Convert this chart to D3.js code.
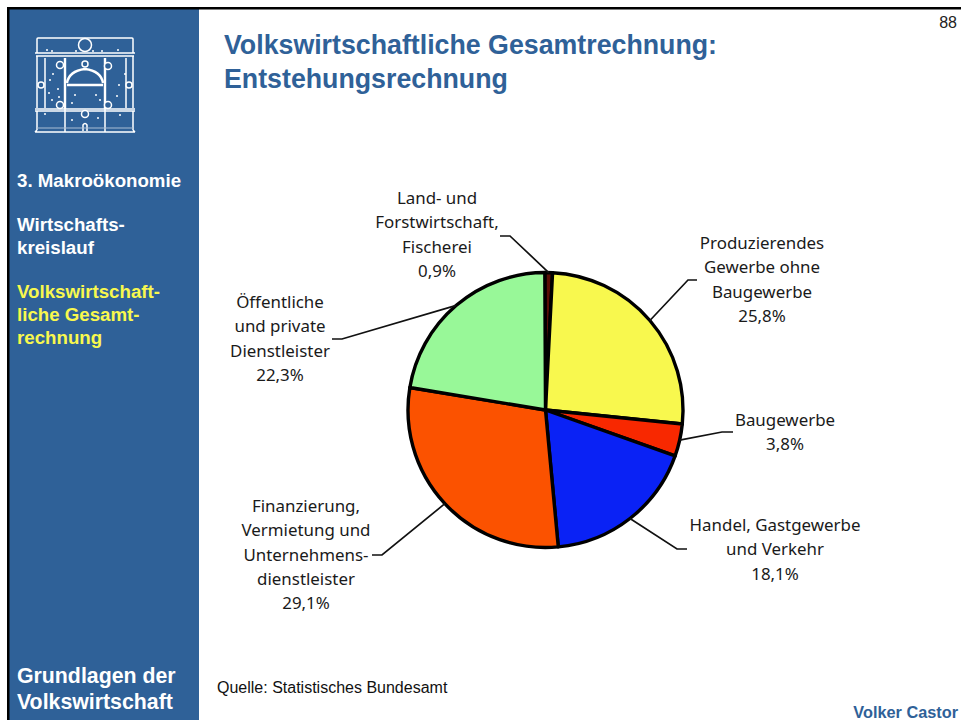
<!DOCTYPE html>
<html>
<head>
<meta charset="utf-8">
<script src="https://cdn.jsdelivr.net/npm/d3@7"></script>
<style>
html, body { margin: 0; padding: 0; background: #fff; overflow: hidden; }
svg { display: block; }
text { font-family: "Liberation Sans", Arial, sans-serif; }
.pie-label { font-family: "Noto Sans", sans-serif; font-size: 16.9px; fill: #1a1a1a; text-anchor: middle; }
</style>
</head>
<body>
<script>
/* global d3 */
var categories = [
  ['Land- und', 'Forstwirtschaft,', 'Fischerei'],
  ['Produzierendes', 'Gewerbe ohne', 'Baugewerbe'],
  ['Baugewerbe'],
  ['Handel, Gastgewerbe', 'und Verkehr'],
  ['Finanzierung,', 'Vermietung und', 'Unternehmens-', 'dienstleister'],
  ['Öffentliche', 'und private', 'Dienstleister']
];
var values = [0.9, 25.8, 3.8, 18.1, 29.1, 22.3];
var sliceColors = ['#5a0e05', '#f8f84e', '#f82800', '#0a22f5', '#fb5200', '#98f898'];

var titleLines = ['Volkswirtschaftliche Gesamtrechnung:', 'Entstehungsrechnung'];
var sidebarWhite = [['3. Makroökonomie', 187], ['Wirtschafts-', 231], ['kreislauf', 254]];
var sidebarYellow = [['Volkswirtschaft-', 298], ['liche Gesamt-', 321], ['rechnung', 344]];
var footerLines = [['Grundlagen der', 683], ['Volkswirtschaft', 709]];

// label placement, same order as categories: centre x, first baseline
var labelX = [437, 762, 785, 775, 306, 280];
var labelY = [204, 249, 426, 531, 512, 308];
var lineHeight = 24.3;
// leader lines leave the slice middle, go to an elbow, then end
var elbows = [[510, 236], [688, 280], [722, 432], [677, 549], [382, 555], [342, 339]];
var leaderEnds = [[500, 236], [697, 280], [733, 432], [687, 549], [372, 555], [332, 339]];

var width = 961;
var height = 720;
var blue = '#2f6198';
var radius = 137.5;
var cx = 545.5;
var cy = 410;

var svg = d3.select('body').append('svg')
  .attr('width', width)
  .attr('height', height)
  .attr('viewBox', [0, 0, width, height].join(' '));

svg.append('rect').attr('width', width).attr('height', height).attr('fill', '#fff');
svg.append('rect').attr('x', 9).attr('y', 9).attr('width', 190).attr('height', height).attr('fill', blue);
svg.append('rect').attr('x', 7).attr('y', 7).attr('width', width).attr('height', 2.5).attr('fill', '#000');
svg.append('rect').attr('x', 7).attr('y', 7).attr('width', 2.5).attr('height', height).attr('fill', '#000');

drawLogo(svg.append('g'));

sidebarText(sidebarWhite, '#fff', 18.7);
sidebarText(sidebarYellow, '#f8f84e', 18.7);
sidebarText(footerLines, '#fff', 21.3);

svg.selectAll('.title').data(titleLines).enter().append('text')
  .attr('class', 'title')
  .attr('x', 224)
  .attr('y', function(d, i) { return 54 + i * 33.5; })
  .attr('fill', blue)
  .style('font-size', '26.75px')
  .style('font-weight', 'bold')
  .text(function(d) { return d; });

svg.append('text').attr('x', 957).attr('y', 28).attr('text-anchor', 'end')
  .attr('fill', '#222').style('font-size', '16px').text('88');
svg.append('text').attr('x', 217).attr('y', 692.5)
  .attr('fill', '#111').style('font-size', '16px').text('Quelle: Statistisches Bundesamt');
svg.append('text').attr('x', 958).attr('y', 718).attr('text-anchor', 'end')
  .attr('fill', blue).style('font-size', '16.3px').style('font-weight', 'bold').text('Volker Castor');

// pie
var pie = d3.pie().sort(null).value(function(d) { return d; })
  .startAngle(-0.005).endAngle(2 * Math.PI - 0.005);
var arc = d3.arc().innerRadius(0).outerRadius(radius);
var rimArc = d3.arc().innerRadius(radius).outerRadius(radius);
var percent = d3.formatLocale({ decimal: ',', thousands: '.', grouping: [3], currency: ['', ' €'] }).format('.1f');
var slices = pie(values);
var chart = svg.append('g').attr('transform', 'translate(' + cx + ',' + cy + ')');

var line = d3.line();
svg.selectAll('.leader').data(slices).enter().append('path')
  .attr('class', 'leader')
  .attr('fill', 'none')
  .attr('stroke', '#111')
  .attr('stroke-width', 1.7)
  .attr('d', function(d, i) {
    var rim = rimArc.centroid(d);
    return line([[rim[0] + cx, rim[1] + cy], elbows[i], leaderEnds[i]]);
  });

chart.selectAll('.slice').data(slices).enter().append('path')
  .attr('class', 'slice')
  .attr('d', arc)
  .attr('fill', function(d, i) { return sliceColors[i]; })
  .attr('stroke', '#000')
  .attr('stroke-width', 3.4)
  .attr('stroke-linejoin', 'round');

var labels = svg.selectAll('.pie-label').data(categories).enter().append('text')
  .attr('class', 'pie-label')
  .attr('x', function(d, i) { return labelX[i]; })
  .attr('y', function(d, i) { return labelY[i]; });

labels.selectAll('tspan')
  .data(function(d, i) { return d.concat(percent(values[i]) + '%').map(function(t) { return { text: t, x: labelX[i] }; }); })
  .enter().append('tspan')
  .attr('x', function(d) { return d.x; })
  .attr('dy', function(d, i) { return i ? lineHeight : 0; })
  .text(function(d) { return d.text; });

/*
* Writes a block of bold sidebar lines, each given with its baseline
*/
function sidebarText(rows, color, size) {
  var group = svg.append('g');
  group.selectAll('text').data(rows).enter().append('text')
    .attr('x', 17)
    .attr('y', function(d) { return d[1]; })
    .attr('fill', color)
    .style('font-size', size + 'px')
    .style('font-weight', 'bold')
    .text(function(d) { return d[0]; });
}

/*
* Line drawing of the portal in the top of the sidebar
*/
function drawLogo(g) {
  var ink = '#fff';
  g.attr('fill', 'none').attr('stroke', ink).attr('stroke-width', 1.5);
  var outlines = [
    'M37 53V39Q37 38 38 38H132Q133 38 133 39V53',
    'M35 53H135M36 56H134',
    'M37 56V108M133 56V108M45 58V108M126 58V108',
    'M35 109H135M35 111H135',
    'M37 111V130M133 111V130M35 132H135M35 132L37 130M135 132L133 130',
    'M65 109V132M105 109V132',
    'M83 131V125Q85 122 87 125V131'
  ];
  g.selectAll('.outline').data(outlines).enter().append('path')
    .attr('class', 'outline').attr('d', function(d) { return d; });

  var heavy = [
    'M65 58V109M105 58V109M67 85H103',
    'M67 83Q69 71 85 69Q101 71 103 83'
  ];
  g.selectAll('.heavy').data(heavy).enter().append('path')
    .attr('class', 'heavy').attr('stroke-width', 2.4).attr('d', function(d) { return d; });

  g.append('path').attr('d', 'M37 128H133').attr('stroke', '#a9bdd4').attr('stroke-width', 1.2);

  var rings = [[85, 45, 6.5], [60, 65, 3.5], [108, 66, 3.5], [60, 105, 3.5], [108, 105, 3.5], [41, 85, 3], [129, 85, 3], [85, 64, 3], [85, 114, 3.5]];
  g.selectAll('.ring').data(rings).enter().append('circle')
    .attr('class', 'ring')
    .attr('cx', function(d) { return d[0]; })
    .attr('cy', function(d) { return d[1]; })
    .attr('r', function(d) { return d[2]; })
    .attr('fill', blue);

  var specks = [[50, 80], [53, 74], [49, 93], [58, 89], [59, 97], [52, 100], [119, 85], [125, 74], [117, 96], [75, 95], [96, 95], [72, 103], [100, 100], [47, 50], [52, 51], [76, 51], [93, 51], [102, 51], [118, 50], [45, 114], [120, 115], [72, 120], [98, 118]];
  g.selectAll('.speck').data(specks).enter().append('circle')
    .attr('class', 'speck')
    .attr('cx', function(d) { return d[0]; })
    .attr('cy', function(d) { return d[1]; })
    .attr('r', 1)
    .attr('stroke', 'none')
    .attr('fill', ink);
}
</script>
</body>
</html>
